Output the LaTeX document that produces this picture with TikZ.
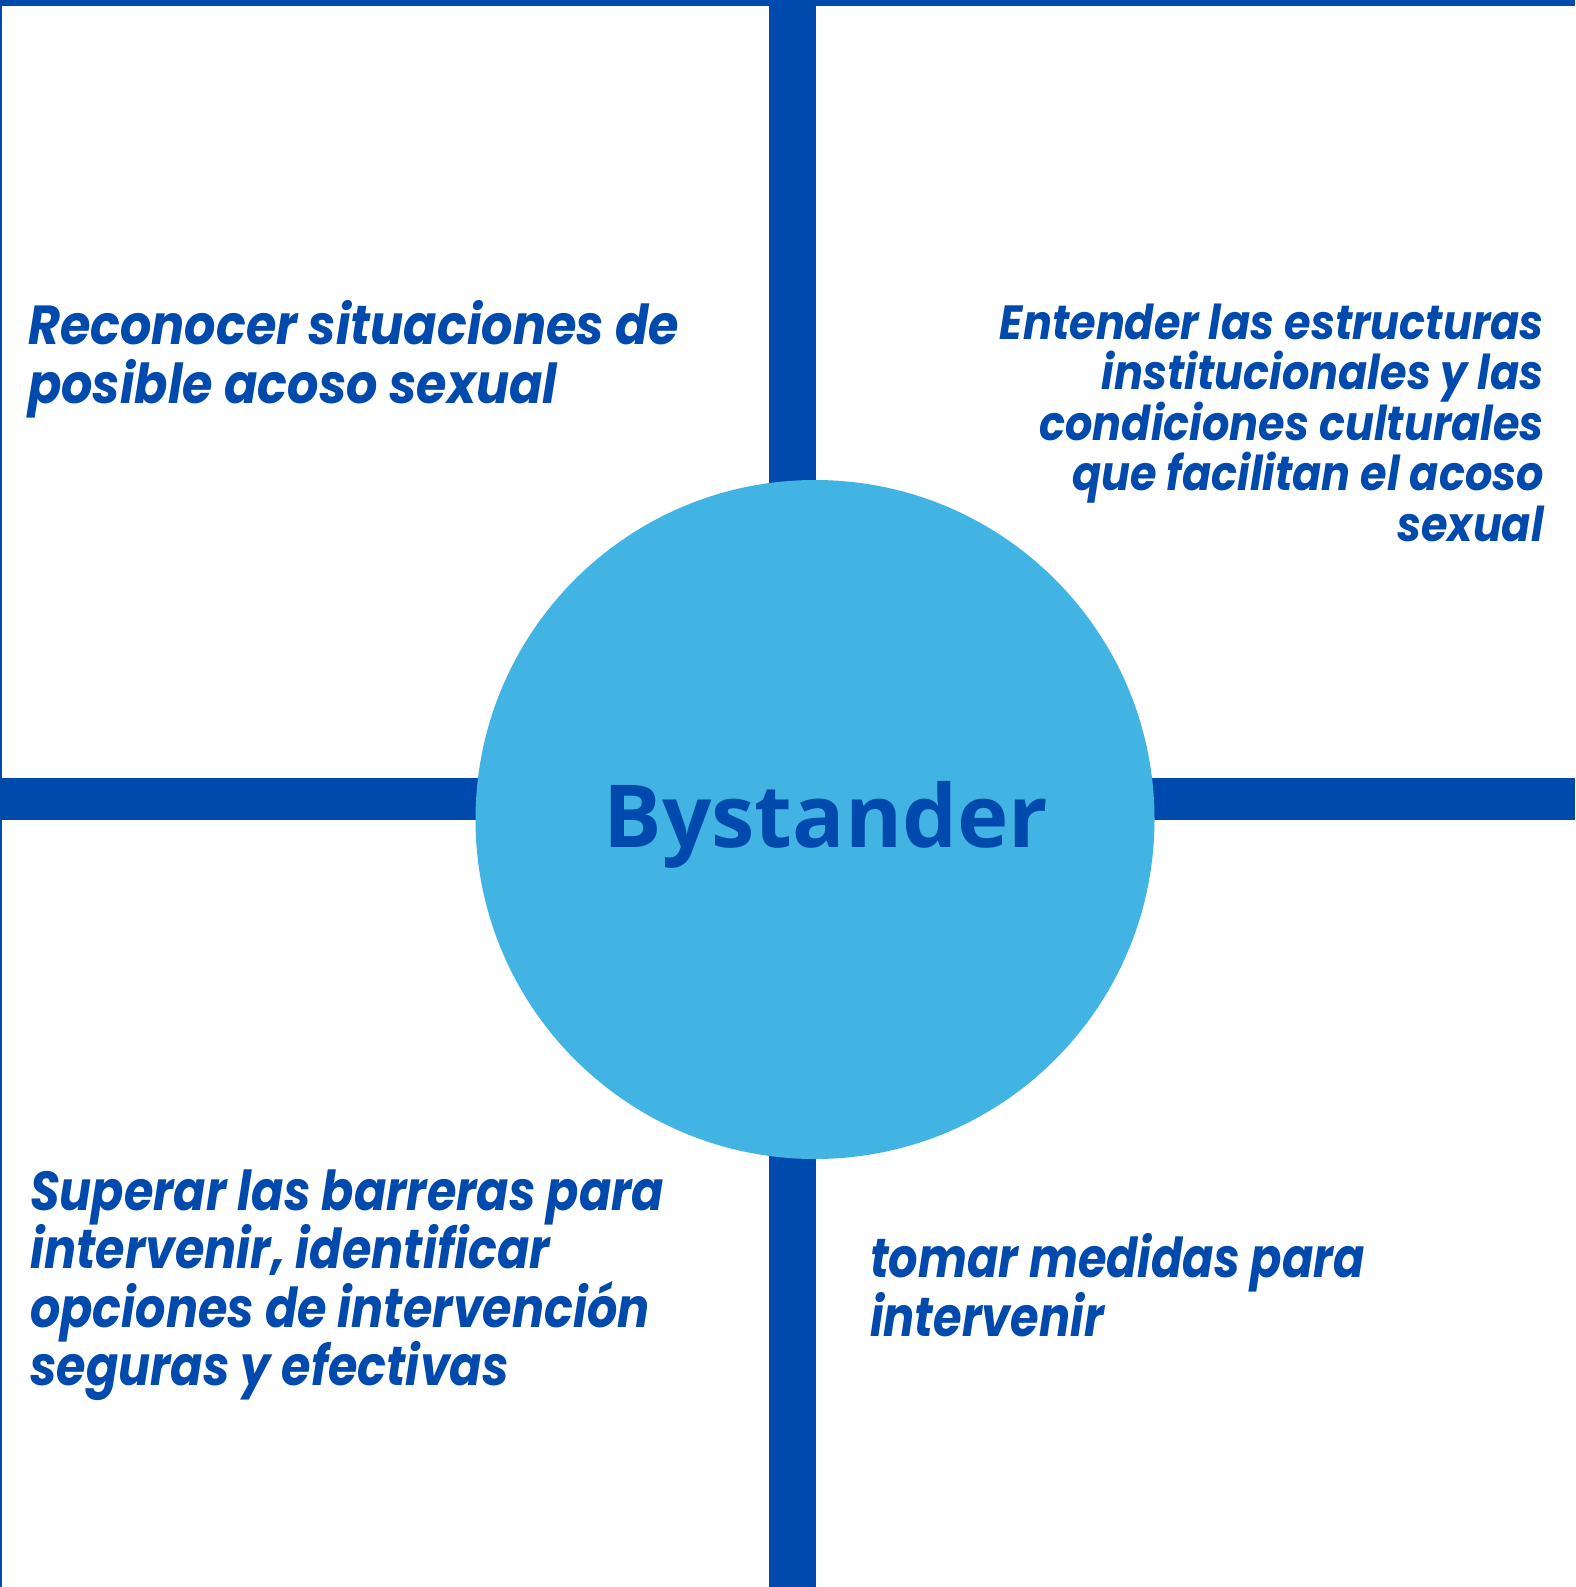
\documentclass[tikz,border=0pt]{standalone}
\usepackage{fontspec}
\newfontfamily\popA{Poppins}[FakeStretch=0.895]
\newfontfamily\popB{Poppins}[FakeStretch=0.866]
\newfontfamily\popC{Poppins}[FakeStretch=0.84]
\newfontfamily\osfont{Open Sans}
\definecolor{navy}{HTML}{004AAD}
\definecolor{sky}{HTML}{42B4E4}
\tikzset{
  bar/.style={fill=navy, draw=none},
  quad/.style={inner sep=0pt, text=navy},
  quadtl/.style={quad, font=\popA\bfseries\itshape\fontsize{55}{58.5}\selectfont},
  quadtr/.style={quad, font=\popA\bfseries\itshape\fontsize{48}{50.6}\selectfont},
  quadbl/.style={quad, font=\popB\bfseries\itshape\fontsize{55}{58.5}\selectfont},
  quadbr/.style={quad, font=\popC\bfseries\itshape\fontsize{55}{58.5}\selectfont},
  hub/.style={circle, fill=sky, draw=none, minimum size=679pt, inner sep=0pt},
}
\begin{document}
\begin{tikzpicture}[x=1pt,y=-1pt]
\useasboundingbox (0,0) rectangle (1575,1587);
\fill[white] (0,0) rectangle (1575,1587);
% frame lines
\fill[navy] (0,0) rectangle (1575,6);
\fill[navy] (0,0) rectangle (1.5,1587);
% cross bars
\path[bar] (769,0) rectangle (816,1587);
\path[bar] (0,778) rectangle (1575,820);
% central circle
\node[hub] (hub) at (815,819.5) {};
\node[inner sep=0pt, text=navy, font=\osfont\bfseries\fontsize{87}{92}\selectfont, anchor=base] (title) at (826,847) {Bystander};
% quadrant texts
\node[quadtl, anchor=base west] (tl1) at (28,344) {Reconocer situaciones de};
\node[quadtl, anchor=base west] (tl2) at (28,403) {posible acoso sexual};
\node[quadtr, anchor=base east] (tr1) at (1544,339) {Entender las estructuras};
\node[quadtr, anchor=base east] (tr2) at (1544,389.6) {institucionales y las};
\node[quadtr, anchor=base east] (tr3) at (1544,440.2) {condiciones culturales};
\node[quadtr, anchor=base east] (tr4) at (1544,490.8) {que facilitan el acoso};
\node[quadtr, anchor=base east] (tr5) at (1544,541.4) {sexual};
\node[quadbl, anchor=base west] (bl1) at (30,1210) {Superar las barreras para};
\node[quadbl, anchor=base west] (bl2) at (30,1268.5) {intervenir, identificar};
\node[quadbl, anchor=base west] (bl3) at (30,1327) {opciones de intervención};
\node[quadbl, anchor=base west] (bl4) at (30,1385.5) {seguras y efectivas};
\node[quadbr, anchor=base west] (br1) at (870,1277) {tomar medidas para};
\node[quadbr, anchor=base west] (br2) at (870,1336) {intervenir};
\end{tikzpicture}
\end{document}
